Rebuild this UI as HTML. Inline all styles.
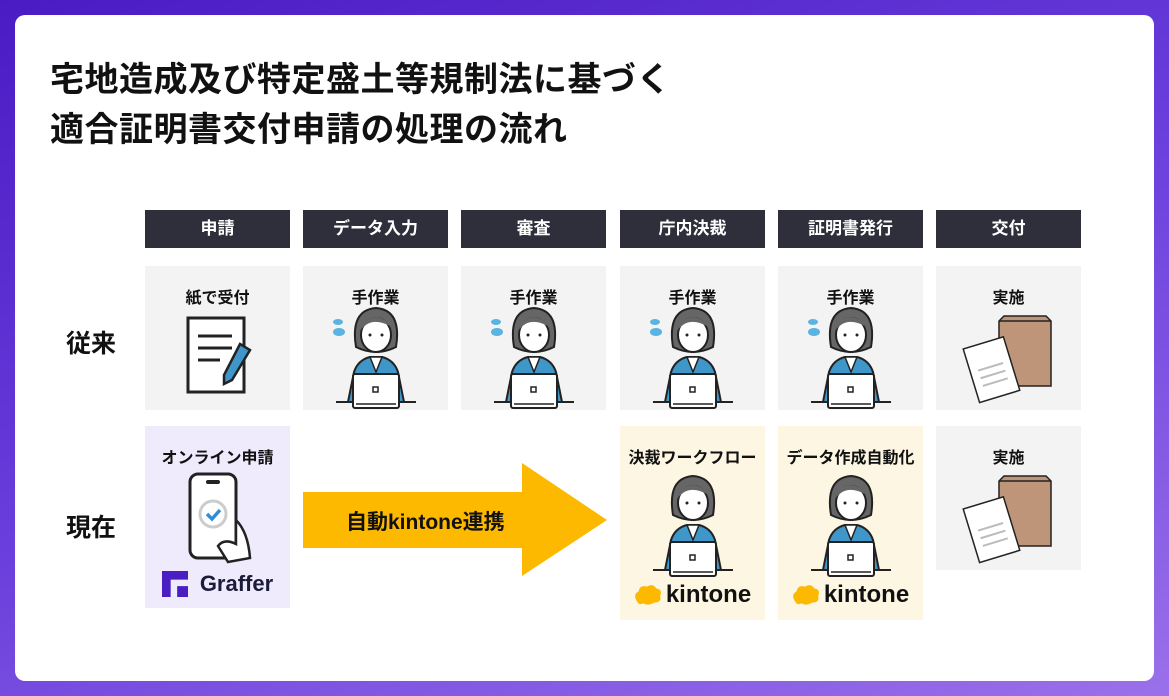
<!DOCTYPE html>
<html><head><meta charset="utf-8"><style>
*{margin:0;padding:0;box-sizing:border-box}
body{width:1169px;height:696px;overflow:hidden;background:linear-gradient(160deg,#4a1bc4 0%,#6a3fdc 50%,#9a70ea 100%);font-family:"Liberation Sans","Noto Sans CJK JP",sans-serif;position:relative}
.card{position:absolute;left:15px;top:15px;width:1139px;height:666px;background:#fff;border-radius:10px}
.t{position:absolute;left:50px;font-size:34px;font-weight:bold;color:#111;letter-spacing:0.5px}
.h{position:absolute;top:210px;height:38px;width:145px;background:#2f2f3b;color:#fff;font-size:17px;font-weight:bold;text-align:center;line-height:38px}
.c{position:absolute;width:145px;background:#f3f3f3;text-align:center;font-size:16px;font-weight:bold;color:#111}
.c span{display:block;margin-top:18px}
.lab{position:absolute;left:66px;font-size:25px;font-weight:bold;color:#111}
svg.a{position:absolute}
</style></head><body>
<svg width="0" height="0" style="position:absolute">
<defs>
<symbol id="p" viewBox="0 0 100 110">
<path d="M22 100 L28 70 Q32 58 44 55 L56 55 Q68 58 72 70 L78 100Z" fill="#3f97c9" stroke="#222" stroke-width="2"/>
<path d="M44 55 L50 70 L56 55Z" fill="#fff" stroke="#222" stroke-width="1.5"/>
<path d="M30 45 Q24 8 50 6 Q76 8 70 45 Q60 50 50 50 Q40 50 30 45Z" fill="#666" stroke="#222" stroke-width="2"/>
<ellipse cx="50" cy="33" rx="15" ry="17" fill="#fff" stroke="#222" stroke-width="2"/>
<path d="M35 28 Q45 14 64 24 Q60 16 50 15 Q37 16 35 28Z" fill="#666"/>
<circle cx="44" cy="33" r="1.5" fill="#222"/><circle cx="56" cy="33" r="1.5" fill="#222"/>
<rect x="10" y="99" width="80" height="2" fill="#222"/>
<rect x="27" y="72" width="46" height="34" rx="2" fill="#fff" stroke="#222" stroke-width="2"/>
<rect x="47" y="85" width="5" height="5" fill="none" stroke="#222" stroke-width="1.5"/>
<line x1="30" y1="102" x2="70" y2="102" stroke="#222" stroke-width="1.5"/>
</symbol>
<symbol id="env" viewBox="0 0 100 100">
<path d="M40 15 L45 10 L87 10 L92 15 L92 80 L40 80Z" fill="#bf957a" stroke="#222" stroke-width="1.5"/>
<path d="M40 15 L92 15" stroke="#222" stroke-width="1.5"/>
<g transform="rotate(-17 35 65)"><rect x="12" y="35" width="42" height="56" fill="#fff" stroke="#222" stroke-width="1.5"/>
<line x1="20" y1="60" x2="46" y2="60" stroke="#bbb" stroke-width="2"/><line x1="20" y1="68" x2="46" y2="68" stroke="#bbb" stroke-width="2"/><line x1="20" y1="76" x2="46" y2="76" stroke="#bbb" stroke-width="2"/></g>
</symbol>
<symbol id="k" viewBox="0 0 30 24"><path d="M4 20 Q-2 12 5 8 Q6 1 14 3 Q20 -1 24 5 Q31 6 28 13 Q30 20 22 20 Q15 24 10 21 Q6 23 4 20Z" fill="#fcb900"/></symbol>
</defs></svg>
<div class="card"></div>
<div class="t" style="top:52px">宅地造成及び特定盛土等規制法に基づく</div>
<div class="t" style="top:102px">適合証明書交付申請の処理の流れ</div>
<div class="lab" style="top:324px">従来</div>
<div class="lab" style="top:508px">現在</div>
<div class="h" style="left:145px">申請</div>
<div class="h" style="left:303px">データ入力</div>
<div class="h" style="left:461px">審査</div>
<div class="h" style="left:620px">庁内決裁</div>
<div class="h" style="left:778px">証明書発行</div>
<div class="h" style="left:936px">交付</div>
<div class="c" style="left:145px;top:266px;height:144px"><span>紙で受付</span>
<svg width="80" height="85" style="margin-top:6px" viewBox="0 0 80 85"><rect x="10" y="4" width="56" height="74" fill="#fff" stroke="#222" stroke-width="3"/><line x1="20" y1="22" x2="54" y2="22" stroke="#222" stroke-width="3"/><line x1="20" y1="34" x2="54" y2="34" stroke="#222" stroke-width="3"/><line x1="20" y1="46" x2="42" y2="46" stroke="#222" stroke-width="3"/><path d="M62 30 L72 36 L54 66 L46 70 L46 61Z" fill="#3f97c9" stroke="#222" stroke-width="2.5"/></svg></div>
<div class="c" style="left:303px;top:266px;height:144px"><span>手作業</span><svg width="100" height="110" style="margin-top:-6px"><use href="#p"/></svg></div>
<div class="c" style="left:461px;top:266px;height:144px"><span>手作業</span><svg width="100" height="110" style="margin-top:-6px"><use href="#p"/></svg></div>
<div class="c" style="left:620px;top:266px;height:144px"><span>手作業</span><svg width="100" height="110" style="margin-top:-6px"><use href="#p"/></svg></div>
<div class="c" style="left:778px;top:266px;height:144px"><span>手作業</span><svg width="100" height="110" style="margin-top:-6px"><use href="#p"/></svg></div>
<div class="c" style="left:936px;top:266px;height:144px"><span>実施</span><svg width="100" height="100" style="margin-top:-2px"><use href="#env"/></svg></div>
<svg class="a" style="left:330px;top:316px" width="20" height="22"><ellipse cx="8" cy="6" rx="5" ry="3" fill="#5ab3e0"/><ellipse cx="9" cy="16" rx="6" ry="4" fill="#5ab3e0"/></svg>
<svg class="a" style="left:488px;top:316px" width="20" height="22"><ellipse cx="8" cy="6" rx="5" ry="3" fill="#5ab3e0"/><ellipse cx="9" cy="16" rx="6" ry="4" fill="#5ab3e0"/></svg>
<svg class="a" style="left:647px;top:316px" width="20" height="22"><ellipse cx="8" cy="6" rx="5" ry="3" fill="#5ab3e0"/><ellipse cx="9" cy="16" rx="6" ry="4" fill="#5ab3e0"/></svg>
<svg class="a" style="left:805px;top:316px" width="20" height="22"><ellipse cx="8" cy="6" rx="5" ry="3" fill="#5ab3e0"/><ellipse cx="9" cy="16" rx="6" ry="4" fill="#5ab3e0"/></svg>
<div class="c" style="left:145px;top:426px;height:182px;background:#efeafc"><span>オンライン申請</span>
<svg width="80" height="92" style="margin-top:4px" viewBox="0 0 80 92"><rect x="12" y="2" width="46" height="84" rx="8" fill="#fff" stroke="#222" stroke-width="3"/><rect x="28" y="8" width="14" height="4" rx="2" fill="#222"/><circle cx="35" cy="42" r="13" fill="none" stroke="#ccc" stroke-width="3"/><path d="M29 42 L34 47 L42 38" fill="none" stroke="#2f8fd5" stroke-width="3.5"/><path d="M58 48 Q70 60 72 86 L50 90 L40 74 Q46 66 58 72Z" fill="#fff" stroke="#222" stroke-width="2.5"/></svg>
<div style="display:flex;align-items:center;justify-content:center;margin-top:2px;color:#1b1b3a;font-size:22px;font-weight:bold;gap:12px"><svg width="26" height="26" viewBox="0 0 24 24"><path d="M0 0 H24 V8 H8 V24 H0Z M14 14 H24 V24 H14Z" fill="#4a1ec0"/></svg>Graffer</div></div>
<svg class="a" style="left:303px;top:463px" width="305" height="114"><path d="M0 29 H219 V0 L304 57 L219 113 V85 H0Z" fill="#fcb900"/></svg>
<div style="position:absolute;left:346px;top:506px;font-size:21px;font-weight:bold;color:#111">自動kintone連携</div>
<div class="c" style="left:620px;top:426px;height:194px;background:#fdf6e3"><span>決裁ワークフロー</span><svg width="100" height="110" style="margin-top:2px"><use href="#p"/></svg>
<div style="display:flex;align-items:center;justify-content:center;font-size:24px;gap:4px;margin-top:-4px"><svg width="28" height="24"><use href="#k"/></svg>kintone</div></div>
<div class="c" style="left:778px;top:426px;height:194px;background:#fdf6e3"><span>データ作成自動化</span><svg width="100" height="110" style="margin-top:2px"><use href="#p"/></svg>
<div style="display:flex;align-items:center;justify-content:center;font-size:24px;gap:4px;margin-top:-4px"><svg width="28" height="24"><use href="#k"/></svg>kintone</div></div>
<div class="c" style="left:936px;top:426px;height:144px"><span>実施</span><svg width="100" height="100" style="margin-top:-2px"><use href="#env"/></svg></div>
</body></html>
